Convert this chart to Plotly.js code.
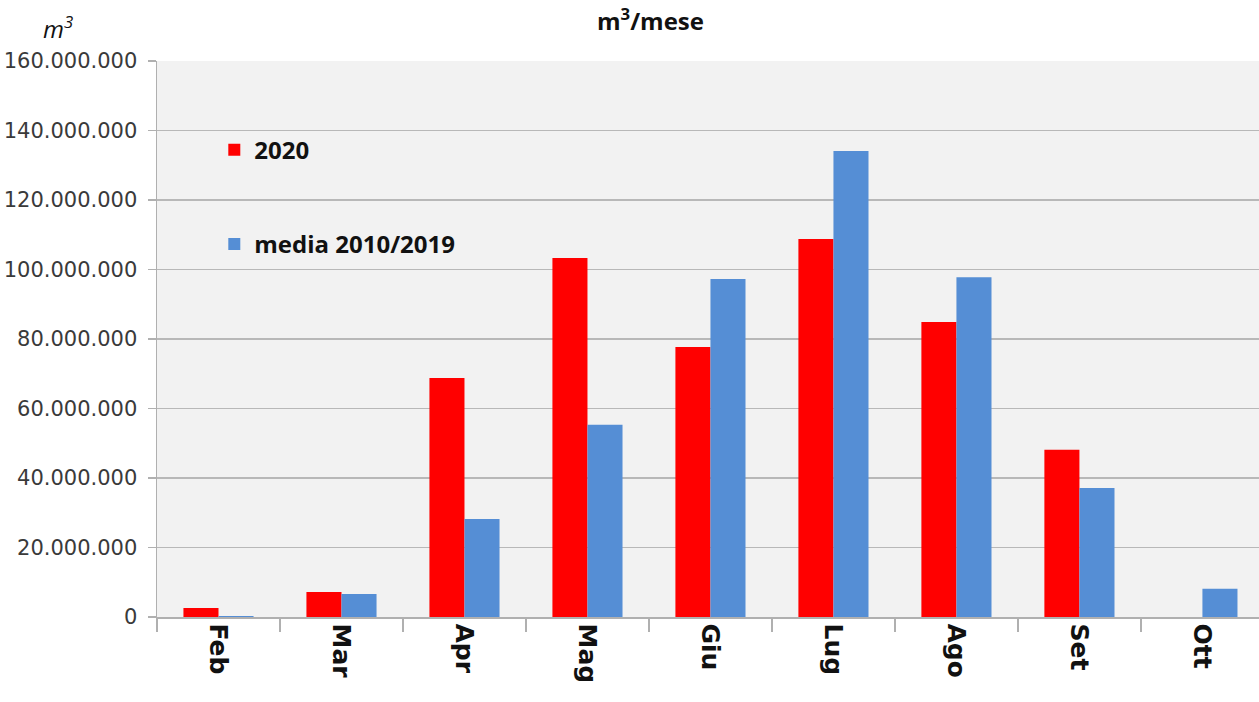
<!DOCTYPE html>
<html><head><meta charset="utf-8">
<script src="https://cdn.plot.ly/plotly-3.0.1.min.js"></script>
<style>html,body{margin:0;padding:0;background:#fff;}#chart{width:1259px;height:702px;}</style>
</head><body><div id="chart"></div>
<script>
const months = ["Feb","Mar","Apr","Mag","Giu","Lug","Ago","Set","Ott"];
const values2020 = [2600000, 7200000, 68800000, 103300000, 77700000, 108800000, 84900000, 48100000, null];
const valuesMedia = [300000, 6600000, 28200000, 55300000, 97300000, 134100000, 97800000, 37100000, 8100000];
const yTicks = [0,20000000,40000000,60000000,80000000,100000000,120000000,140000000,160000000];

const traces = [
  {type:'bar', name:'2020', x:months, y:values2020, marker:{color:'#ff0000'}, legendgroup:'a'},
  {type:'bar', name:'media 2010/2019', x:months, y:valuesMedia, marker:{color:'#558ed5'}, legendgroup:'b'}
];
const layout = {
  width:1259, height:702,
  margin:{l:157, r:0, t:61, b:85},
  paper_bgcolor:'#ffffff', plot_bgcolor:'#f2f2f2',
  separators:',.',
  barmode:'group', bargap:0.43, bargroupgap:0,
  showlegend:true,
  legend:{x:0.052, y:0.88, xanchor:'left', yanchor:'top', bgcolor:'rgba(0,0,0,0)',
    font:{family:'Open Sans', size:24, color:'#111', weight:'bold'}, tracegroupgap:60, itemwidth:30},
  xaxis:{type:'category', range:[-0.5, 8.46], tickson:'boundaries', ticks:'outside', ticklen:13,
    tickcolor:'#b0b0b0', tickwidth:1.5, showline:true, linecolor:'#b0b0b0', linewidth:1.5,
    tickangle:90, tickfont:{family:'DejaVu Sans', size:25, color:'#111', weight:'bold'},
    showgrid:false, fixedrange:true},
  yaxis:{range:[0,160000000], tickvals:yTicks, tickformat:',d', ticks:'outside', ticklen:8,
    tickcolor:'#b0b0b0', tickwidth:1.5, showline:true, linecolor:'#b0b0b0', linewidth:1.5,
    gridcolor:'#b8b8b8', gridwidth:1.5, zeroline:false,
    tickfont:{family:'DejaVu Sans', size:21, color:'#3a3a3a'}, ticklabelstandoff:6},
  annotations:[
    {text:'m<sup>3</sup>/mese', xref:'paper', yref:'paper', x:(650-157)/1102, y:1.0, yshift:61,
     xanchor:'center', yanchor:'top', showarrow:false, font:{family:'Open Sans', size:24, color:'#111', weight:'bold'}},
    {text:'<i>m<sup>3</sup></i>', xref:'paper', yref:'paper', x:-(157-58)/1102, y:1.0, yshift:53,
     xanchor:'center', yanchor:'top', showarrow:false, font:{family:'Open Sans', size:24, color:'#111'}}
  ]
};
Plotly.newPlot('chart', traces, layout, {displayModeBar:false, staticPlot:true});
</script></body></html>
